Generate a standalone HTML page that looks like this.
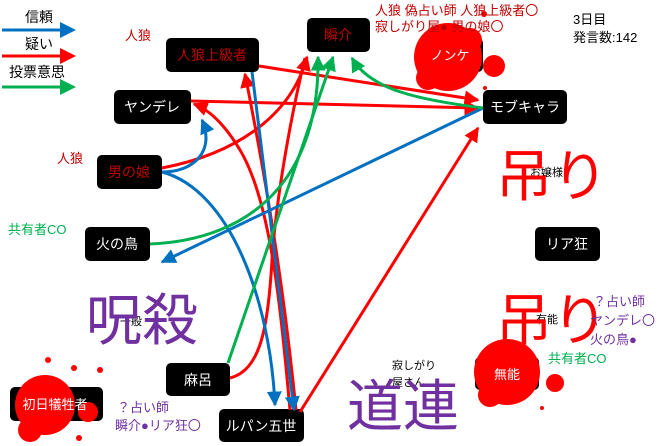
<!DOCTYPE html>
<html><head><meta charset="utf-8"><style>
html,body{margin:0;padding:0;background:#fff;width:660px;height:446px;overflow:hidden}
svg{display:block;font-family:"Liberation Sans","Noto Sans CJK JP",sans-serif}
</style></head><body>
<svg width="660" height="446" viewBox="0 0 660 446" xmlns="http://www.w3.org/2000/svg">
<defs>
<marker id="ab" viewBox="0 0 10 10" refX="9" refY="5" markerWidth="5" markerHeight="5" orient="auto-start-reverse" markerUnits="strokeWidth"><path d="M0,0L10,5L0,10z" fill="#0070c0"/></marker>
<marker id="ar" viewBox="0 0 10 10" refX="9" refY="5" markerWidth="5" markerHeight="5" orient="auto-start-reverse" markerUnits="strokeWidth"><path d="M0,0L10,5L0,10z" fill="#ff0000"/></marker>
<marker id="ag" viewBox="0 0 10 10" refX="9" refY="5" markerWidth="5" markerHeight="5" orient="auto-start-reverse" markerUnits="strokeWidth"><path d="M0,0L10,5L0,10z" fill="#00b050"/></marker>
</defs>

<!-- legend -->
<text x="25" y="22" font-size="14" fill="#000">信頼</text>
<line x1="2" y1="30" x2="62" y2="30" stroke="#0070c0" stroke-width="3"/>
<polygon points="60,22 76,30 60,38" fill="#0070c0"/>
<text x="25" y="49" font-size="14" fill="#000">疑い</text>
<line x1="2" y1="56" x2="62" y2="56" stroke="#ff0000" stroke-width="3"/>
<polygon points="60,48 76,56 60,64" fill="#ff0000"/>
<text x="9" y="77" font-size="14" fill="#000">投票意思</text>
<line x1="2" y1="87" x2="62" y2="87" stroke="#00b050" stroke-width="3"/>
<polygon points="60,79 76,87 60,95" fill="#00b050"/>

<!-- nodes -->
<g fill="#000">
<rect x="166" y="38" width="93" height="34" rx="5"/>
<rect x="307" y="18" width="63" height="34" rx="5"/>
<rect x="418" y="38" width="65" height="34" rx="5"/>
<rect x="483" y="90" width="84" height="34" rx="5"/>
<rect x="114" y="90" width="77" height="34" rx="5"/>
<rect x="97" y="155" width="65" height="34" rx="5"/>
<rect x="85" y="227" width="65" height="34" rx="5"/>
<rect x="535" y="227" width="65" height="34" rx="5"/>
<rect x="166" y="363" width="64" height="33" rx="5"/>
<rect x="10" y="387" width="93" height="34" rx="5"/>
<rect x="219" y="409" width="85" height="33" rx="5"/>
<rect x="475" y="357" width="64" height="33" rx="5"/>
</g>

<!-- connectors -->
<g fill="none" stroke-width="3">
<path d="M259,66 L478,100" stroke="#ff0000" marker-end="url(#ar)"/>
<path d="M191,101 L478,108" stroke="#ff0000" marker-end="url(#ar)"/>
<path d="M290,410 C280,300 270,200 240,150 C225,125 210,110 194,104" stroke="#ff0000" marker-end="url(#ar)"/>
<path d="M162,168 C230,155 290,120 307,57" stroke="#ff0000" marker-end="url(#ar)"/>
<path d="M296,410 C285,300 270,200 245,74" stroke="#ff0000" marker-end="url(#ar)"/>
<path d="M300,412 L478,128" stroke="#ff0000" marker-end="url(#ar)"/>
<path d="M230,378 C260,370 268,330 272,260 C276,200 290,120 305,58" stroke="#ff0000"/>
<path d="M252,72 L294,410" stroke="#0070c0" marker-end="url(#ab)"/>
<path d="M162,172 C195,172 215,150 202,120" stroke="#0070c0" marker-end="url(#ab)"/>
<path d="M162,172 C230,190 270,300 275,405" stroke="#0070c0" marker-end="url(#ab)"/>
<path d="M483,108 L162,262" stroke="#0070c0" marker-end="url(#ab)"/>
<path d="M483,108 C420,100 370,90 352,58" stroke="#00b050" marker-end="url(#ag)"/>
<path d="M150,244 C250,240 320,180 318,57" stroke="#00b050" marker-end="url(#ag)"/>
<path d="M228,363 L333,57" stroke="#00b050" marker-end="url(#ag)"/>
</g>

<!-- node labels -->
<g font-size="14" text-anchor="middle">
<text x="212" y="60" fill="#c00000">人狼上級者</text>
<text x="338" y="40" fill="#c00000">瞬介</text>
<text x="525" y="112" fill="#fff">モブキャラ</text>
<text x="152" y="112" fill="#fff">ヤンデレ</text>
<text x="129" y="177" fill="#c00000">男の娘</text>
<text x="117" y="249" fill="#fff">火の鳥</text>
<text x="567" y="249" fill="#fff">リア狂</text>
<text x="198" y="385" fill="#fff">麻呂</text>
<text x="261" y="431" fill="#fff">ルパン五世</text>
</g>

<!-- red splats -->
<g fill="#ff0000">
<circle cx="448" cy="57" r="34"/><circle cx="428" cy="78" r="12"/><circle cx="470" cy="40" r="12"/>
<circle cx="494" cy="66" r="11"/><circle cx="484" cy="14" r="3"/><circle cx="485" cy="88" r="2"/>
<circle cx="507" cy="372" r="33"/><circle cx="490" cy="395" r="12"/><circle cx="555" cy="383" r="9"/><circle cx="542" cy="408" r="2"/>
<circle cx="45" cy="405" r="30"/><circle cx="88" cy="412" r="10"/><circle cx="30" cy="430" r="12"/><circle cx="48" cy="360" r="3"/><circle cx="74" cy="368" r="3"/><circle cx="100" cy="370" r="3"/><circle cx="79" cy="438" r="3"/>
</g>
<g font-size="13" text-anchor="middle" fill="#fff">
<text x="450" y="60">ノンケ</text>
<text x="507" y="379">無能</text>
<text x="55" y="409">初日犠牲者</text>
</g>

<!-- small hidden names -->
<g font-size="11" fill="#000">
<text x="530" y="176">お嬢様</text>
<text x="536" y="323">有能</text>
<text x="120" y="325">一般</text>
<text x="392" y="369">寂しがり</text>
<text x="392" y="386">屋さん</text>
</g>

<!-- big texts -->
<g font-size="56">
<text x="496" y="196" fill="#ff0000">吊り</text>
<text x="496" y="340" fill="#ff0000">吊り</text>
<text x="86" y="340" fill="#7030a0">呪殺</text>
<text x="347" y="426" fill="#7030a0">道連</text>
</g>

<!-- annotations -->
<g font-size="13">
<text x="125" y="40" fill="#c00000">人狼</text>
<text x="57" y="163" fill="#c00000">人狼</text>
<text x="8" y="234" fill="#00b050">共有者CO</text>
<text x="375" y="15" fill="#c00000">人狼 偽占い師 人狼上級者〇</text>
<text x="375" y="31" fill="#c00000">寂しがり屋● 男の娘〇</text>
<text x="573" y="24" fill="#000">3日目</text>
<text x="573" y="42" fill="#000">発言数:142</text>
<text x="593" y="306" fill="#7030a0">？占い師</text>
<text x="590" y="325" fill="#7030a0">ヤンデレ〇</text>
<text x="590" y="344" fill="#7030a0">火の鳥●</text>
<text x="548" y="363" fill="#00b050">共有者CO</text>
<text x="117" y="412" fill="#7030a0">？占い師</text>
<text x="115" y="430" fill="#7030a0">瞬介●リア狂〇</text>
</g>
</svg>
</body></html>
